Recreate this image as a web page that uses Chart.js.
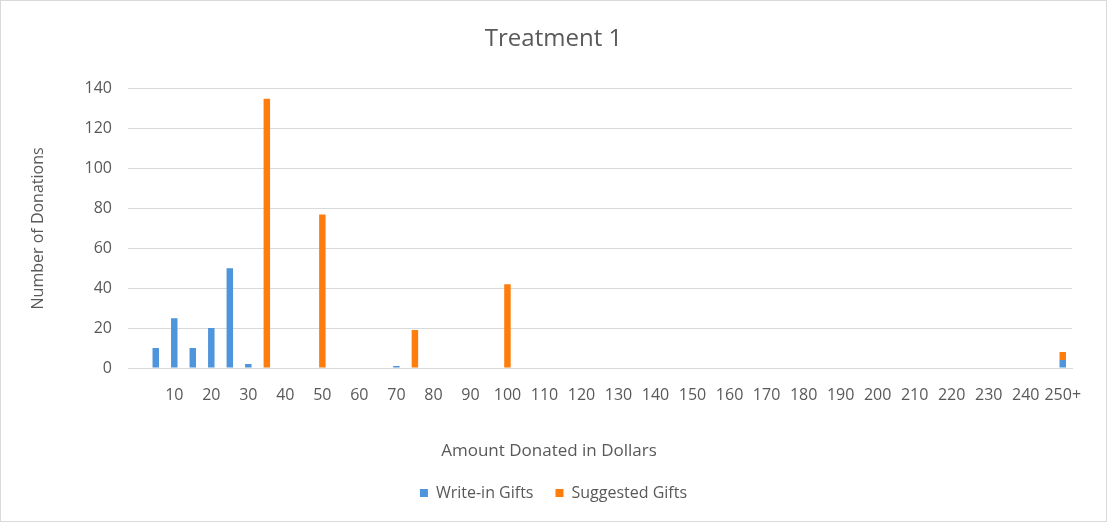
<!DOCTYPE html>
<html>
<head>
<meta charset="utf-8">
<script src="https://cdn.jsdelivr.net/npm/chart.js@4/dist/chart.umd.min.js"></script>
<style>
html,body{margin:0;padding:0;background:#fff;}
canvas{display:block;}
</style>
</head>
<body>
<canvas id="c" width="1107" height="522"></canvas>
<script>
const categories = ['0','5','10','15','20','25','30','35','40','45','50','55','60','65','70','75','80','85','90','95','100','105','110','115','120','125','130','135','140','145','150','155','160','165','170','175','180','185','190','195','200','205','210','215','220','225','230','235','240','245','250+'];
const writeIn = [0,10,25,10,20,50,2,0,0,0,0,0,0,0,1,0,0,0,0,0,0,0,0,0,0,0,0,0,0,0,0,0,0,0,0,0,0,0,0,0,0,0,0,0,0,0,0,0,0,0,4];
const suggested = [0,0,0,0,0,0,0,135,0,0,77,0,0,0,0,19,0,0,0,0,42,0,0,0,0,0,0,0,0,0,0,0,0,0,0,0,0,0,0,0,0,0,0,0,0,0,0,0,0,0,4];
const seriesNames = ['Write-in Gifts','Suggested Gifts'];
const yTicks = [0,20,40,60,80,100,120,140];

const FONT = '"Open Sans", "Liberation Sans", sans-serif';
const TXT = '#595959';
const GRID = '#d9d9d9';
const BLUE = '#4E95DC';
const ORANGE = '#FF7D0C';

const frame = {
  id: 'frame',
  afterDraw(chart) {
    const c = chart.ctx;
    c.save();
    c.strokeStyle = GRID;
    c.lineWidth = 1;
    c.strokeRect(0.5, 0.5, chart.width - 1, chart.height - 1);
    c.fillStyle = TXT;
    c.font = '17px ' + FONT;
    c.textAlign = 'center';
    c.textBaseline = 'alphabetic';
    c.fillText('Amount Donated in Dollars', 549, 456);
    c.restore();
  }
};

new Chart(document.getElementById('c'), {
  type: 'bar',
  data: {
    labels: categories,
    datasets: [
      { label: seriesNames[0], data: writeIn, backgroundColor: BLUE, barPercentage: 0.35, categoryPercentage: 1 },
      { label: seriesNames[1], data: suggested, backgroundColor: ORANGE, barPercentage: 0.35, categoryPercentage: 1 }
    ]
  },
  options: {
    responsive: false,
    animation: false,
    devicePixelRatio: 1,
    layout: { padding: { left: 0, right: 0, top: 0, bottom: 11 } },
    plugins: {
      title: {
        display: true, text: 'Treatment 1', color: TXT,
        font: { family: FONT, size: 24, weight: 'normal' },
        padding: { top: 25, bottom: 35 }
      },
      legend: {
        position: 'bottom',
        labels: {
          boxWidth: 8, boxHeight: 8, padding: 22, color: TXT,
          font: { family: FONT, size: 16 }
        }
      },
      tooltip: { enabled: false }
    },
    scales: {
      x: {
        stacked: true,
        grid: { display: false, drawTicks: false },
        border: { color: GRID },
        ticks: {
          autoSkip: false, maxRotation: 0, minRotation: 0, padding: 18, color: TXT,
          font: { family: FONT, size: 16 },
          callback: (v, i) => (i % 2 === 0 && i > 0) ? categories[i] : ''
        },
        afterFit: s => { s.height = 95; }
      },
      y: {
        stacked: true, min: 0, max: 140,
        afterBuildTicks: s => { s.ticks = yTicks.map(v => ({ value: v })); },
        grid: { color: GRID, drawTicks: false },
        border: { display: false },
        ticks: { padding: 16, color: TXT, font: { family: FONT, size: 16 } },
        title: {
          display: true, text: 'Number of Donations', color: TXT,
          font: { family: FONT, size: 16 }, padding: { top: 29, bottom: 0 }
        },
        afterFit: s => { s.width = 128; }
      },
      yr: {
        position: 'right', display: true,
        grid: { display: false, drawTicks: false },
        border: { display: false },
        ticks: { display: false },
        afterFit: s => { s.width = 35; }
      }
    }
  },
  plugins: [frame]
});
</script>
</body>
</html>
